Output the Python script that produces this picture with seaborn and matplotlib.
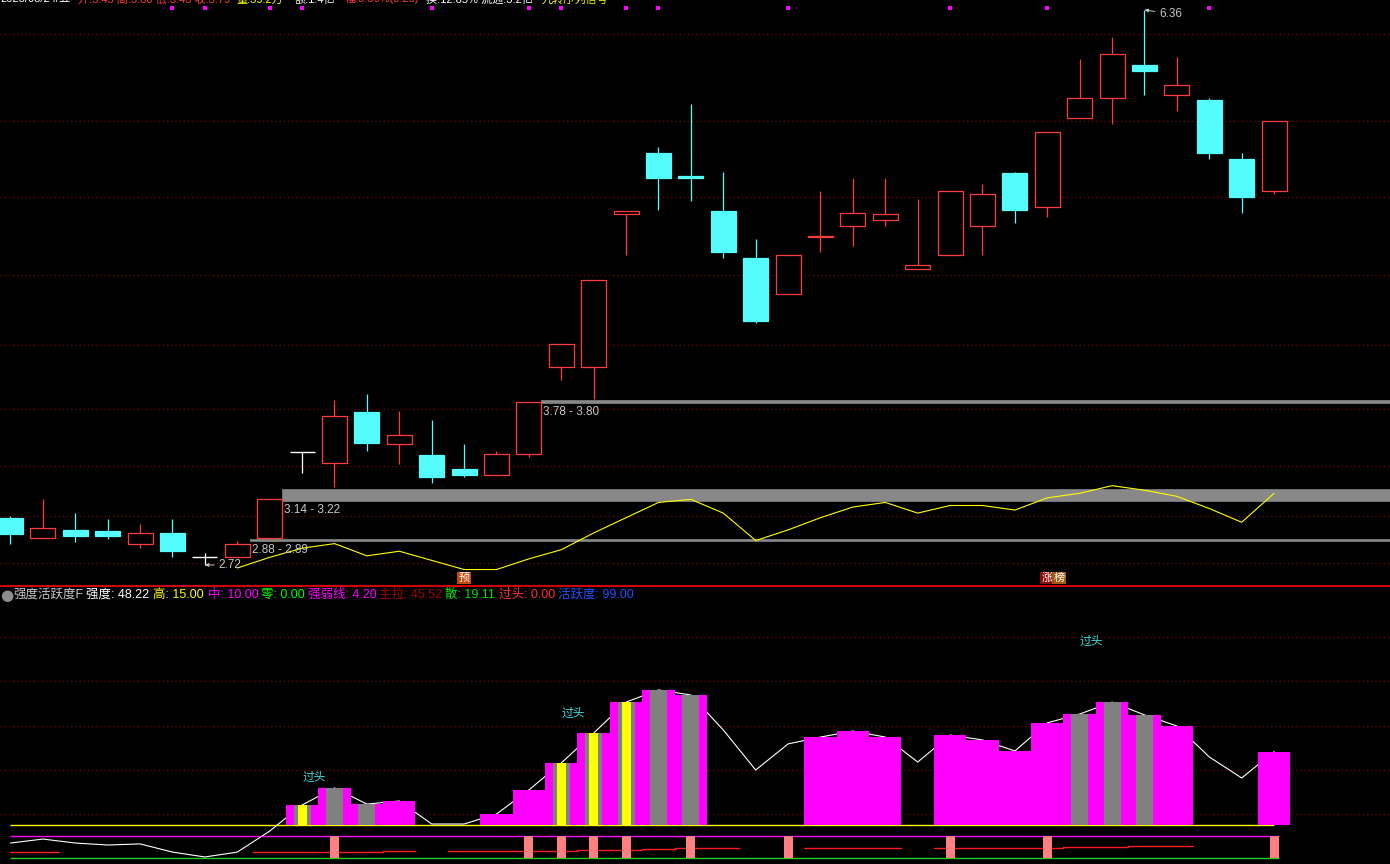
import numpy as np
import matplotlib
matplotlib.use("Agg")
import matplotlib.pyplot as plt
import matplotlib.transforms as mtransforms
import seaborn as sns

# ---- K-line data ----
opens = [3.03, 2.90, 2.95, 2.94, 2.86, 2.93, 2.77, 2.77, 2.90, 3.46,
         3.39, 3.72, 3.51, 3.44, 3.35, 3.31, 3.45, 4.02, 4.02, 5.02,
         5.42, 5.27, 5.04, 4.73, 4.50, 4.87, 4.94, 4.98, 4.66, 4.75,
         4.94, 5.29, 5.07, 5.65, 5.78, 6.00, 5.80, 5.77, 5.38, 5.17]
closes = [2.92, 2.96, 2.91, 2.91, 2.93, 2.81, 2.77, 2.86, 3.15, 3.46,
          3.70, 3.52, 3.57, 3.30, 3.31, 3.45, 3.79, 4.17, 4.59, 5.04,
          5.26, 5.26, 4.77, 4.32, 4.75, 4.88, 5.03, 5.02, 4.69, 5.17,
          5.15, 5.05, 5.56, 5.78, 6.07, 5.96, 5.87, 5.42, 5.13, 5.63]
highs = [3.04, 3.15, 3.06, 3.02, 2.99, 3.02, 2.80, 2.88, 3.15, 3.46,
         3.80, 3.84, 3.73, 3.67, 3.51, 3.47, 3.79, 4.17, 4.59, 5.04,
         5.46, 5.74, 5.30, 4.86, 4.75, 5.17, 5.26, 5.26, 5.12, 5.17,
         5.22, 5.30, 5.56, 6.04, 6.18, 6.36, 6.05, 5.78, 5.42, 5.63]
lows = [2.86, 2.90, 2.87, 2.89, 2.83, 2.77, 2.72, 2.77, 2.90, 3.32,
        3.23, 3.47, 3.38, 3.26, 3.30, 3.31, 3.43, 3.93, 3.81, 4.75,
        5.05, 5.11, 4.73, 4.31, 4.50, 4.77, 4.81, 4.94, 4.66, 4.75,
        4.75, 4.96, 5.00, 5.65, 5.61, 5.80, 5.70, 5.38, 5.03, 5.15]

# yellow line in the price panel (starts at bar 7)
ma_start = 7
ma_line = [2.70, 2.77, 2.83, 2.86, 2.78, 2.81, 2.75, 2.69, 2.69, 2.76,
           2.82, 2.93, 3.03, 3.13, 3.15, 3.06, 2.88, 2.95, 3.03, 3.10,
           3.13, 3.06, 3.11, 3.11, 3.08, 3.16, 3.19, 3.24, 3.21, 3.17,
           3.09, 3.00, 3.19]

price_grid = [2.73, 3.04, 3.37, 3.74, 4.16, 4.62, 5.13, 5.63, 6.20]

# support / pressure zones
zone_lows = [2.88, 3.14, 3.78]
zone_highs = [2.89, 3.22, 3.80]
zone_start = [7, 8, 16]

signal_dots = [5, 6, 8, 9, 13, 16, 17, 19, 20, 24, 29, 32, 37]
tag_yu = 14
tag_zb = 32

# ---- indicator panel ----
strength = [6.9, 8.7, 6.9, 6.0, 6.5, 2.8, 0.6, 2.8, 12.3, 24.1,
            31.8, 24.5, 25.9, 15.5, 15.5, 20.0, 30.9, 43.1, 56.6, 70.6,
            76.1, 73.8, 58.0, 39.9, 51.7, 54.8, 57.5, 54.8, 43.5, 55.7,
            53.5, 48.5, 61.2, 65.2, 70.6, 64.8, 59.8, 45.8, 36.3, 48.22]
# 0 none, 1 magenta, 2 magenta+gray, 3 magenta+gray+yellow
bar_kind = [0, 0, 0, 0, 0, 0, 0, 0, 0, 3,
            2, 2, 1, 0, 0, 1, 1, 3, 3, 3,
            2, 2, 0, 0, 0, 1, 1, 1, 0, 1,
            1, 1, 1, 2, 2, 2, 1, 0, 0, 1]
nan = np.nan
weak_line = [2.8, 2.8, nan, nan, nan, nan, nan, nan, 2.8, 2.8,
             2.8, 2.8, 3.3, nan, 3.3, 3.3, 3.3, 3.3, 3.75, 3.75,
             4.2, 4.65, 4.65, nan, nan, 4.65, 4.65, 4.65, nan, 4.65,
             4.65, 4.65, 4.65, 5.1, 5.1, 5.55, 5.55, nan, nan, nan]
hit_bars = [10, 16, 17, 18, 19, 21, 24, 29, 32, 39]
level_high, level_mid, level_zero = 15.0, 10.0, 0.0
overhead_idx = [9, 17, 33]
overhead_val = [36.4, 65.3, 97.9]
ind_grid = [20, 40, 60, 80, 100]

hdr_names = ["强度", "高", "中", "零", "强弱线", "主拉", "散", "过头", "活跃度"]
hdr_values = [48.22, 15.00, 10.00, 0.00, 4.20, 45.52, 19.11, 0.00, 99.00]
hdr_colors = ["#ffffff", "#ffff00", "#ff00ff", "#00ff00", "#ff00ff",
              "#a00000", "#00e000", "#ff3030", "#2050ff"]
hdr_x = [86, 153, 208, 261, 308, 379, 445, 499, 558]

top_texts = ["2023/03/24/五", "开:3.45 高:3.80 低:3.43 收:3.79", "量:39.2万",
             "额:1.4亿", "幅:5.56%(0.20)", "换:12.85% 流通:3.2亿", "九转序列信号"]
top_colors = ["#ffffff", "#ff3c3c", "#ffff00", "#ffffff", "#ff3c3c", "#ffffff", "#ffff00"]
top_x = [0, 78, 236, 295, 344, 426, 542]

# ---- style ----
sns.set_style("dark", {"axes.facecolor": "black", "figure.facecolor": "black"})
plt.rcParams["font.family"] = ["Liberation Sans", "Noto Sans CJK SC", "DejaVu Sans"]

W, H = 1390, 864
PX = 0.72  # points per pixel at 100 dpi
UP, DOWN, FLAT = "#ff3c3c", "#54fcfc", "#ffffff"
GRID = "#a00000"

fig = plt.figure(figsize=(W / 100, H / 100), dpi=100, facecolor="black")
ax1 = fig.add_axes([0, 1 - 586 / H, 1, 586 / H])
ax2 = fig.add_axes([0, 0, 1, 277 / H])

n = len(opens)
x = np.arange(n)
xlim = (-10.5 / 32.4, (W - 10.5) / 32.4)
half = 0.385

for ax in (ax1, ax2):
    ax.set_facecolor("black")
    ax.set_xlim(*xlim)
    ax.set_xticks([])
    ax.set_yticks([])
    ax.grid(False)
    for s in ax.spines.values():
        s.set_visible(False)

# ---- price panel ----
ax1.set_ylim(2.582, 6.425)
for g in price_grid:
    ax1.axhline(g, color=GRID, lw=0.75, ls=(0, (1, 3)), zorder=0)

for lo, hi, st in zip(zone_lows, zone_highs, zone_start):
    ax1.fill_between([st + half, xlim[1]], lo, hi, color="#888888", lw=0.5, zorder=1)
    ax1.annotate(f"{lo:.2f} - {hi:.2f}", xy=(st + half, lo), xytext=(2 * PX, -9 * PX),
                 textcoords="offset points", ha="left", va="center",
                 color="#c8c8c8", fontsize=8.5, zorder=6)

colors = [UP if c > o else DOWN if c < o else FLAT for o, c in zip(opens, closes)]
ax1.vlines(x, lows, highs, colors=colors, lw=0.9, zorder=2)
for i in range(n):
    o, c = opens[i], closes[i]
    if c > o:
        ax1.bar(i, c - o, bottom=o, width=2 * half, facecolor="black",
                edgecolor=UP, lw=0.9, zorder=3)
    elif c < o:
        ax1.bar(i, o - c, bottom=c, width=2 * half, facecolor=DOWN,
                edgecolor=DOWN, lw=0.9, zorder=3)
    else:
        ax1.hlines(c, i - half, i + half, color=FLAT, lw=1.0, zorder=3)

sns.lineplot(x=x[ma_start:], y=ma_line, ax=ax1, color="#ffff00", lw=0.8,
             legend=False, zorder=4)

trans1 = mtransforms.blended_transform_factory(ax1.transData, ax1.transAxes)
ax1.scatter(signal_dots, [1 - 8 / 586] * len(signal_dots), transform=trans1,
            marker="s", s=10, color="#ff00ff", lw=0, zorder=5)

hi_i = int(np.argmax(highs))
lo_i = int(np.argmin(lows))
arrow = dict(arrowstyle="-|>", color="#c8c8c8", lw=0.7, mutation_scale=5,
             shrinkA=1, shrinkB=0)
ax1.annotate(f"{highs[hi_i]:.2f}", xy=(hi_i, highs[hi_i]), xytext=(15 * PX, -4 * PX),
             textcoords="offset points", ha="left", va="center", color="#c8c8c8",
             fontsize=8.5, arrowprops=arrow, zorder=6)
ax1.annotate(f"{lows[lo_i]:.2f}", xy=(lo_i, lows[lo_i]), xytext=(14 * PX, 0),
             textcoords="offset points", ha="left", va="center", color="#c8c8c8",
             fontsize=8.5, arrowprops=arrow, zorder=6)

tag_y = 1 - 578 / 586
ax1.text(tag_yu, tag_y, "预", transform=trans1, ha="center", va="center",
         color="white", fontsize=8,
         bbox=dict(boxstyle="square,pad=0.12", fc="#c04a10", ec="none"))
ax1.text(tag_zb, tag_y, "涨", transform=trans1, ha="center", va="center",
         color="white", fontsize=8,
         bbox=dict(boxstyle="square,pad=0.12", fc="#8b0a0a", ec="none"))
ax1.annotate("榜", xy=(tag_zb, tag_y), xycoords=trans1, xytext=(12 * PX, 0),
             textcoords="offset points", ha="center", va="center",
             color="white", fontsize=8,
             bbox=dict(boxstyle="square,pad=0.12", fc="#a05a10", ec="none"))

ax1.spines["bottom"].set_visible(True)
ax1.spines["bottom"].set_color("#d00000")
ax1.spines["bottom"].set_linewidth(1.5)

# ---- indicator panel ----
ax2.set_ylim(-2.58, 122.62)
for g in ind_grid:
    ax2.axhline(g, color=GRID, lw=0.75, ls=(0, (1, 3)), zorder=0)

ax2.hlines(level_high, x[0], x[-1], color="#ffff00", lw=1.0, zorder=1)
ax2.hlines(level_mid, x[0], x[-1] + 0.15, color="#ff00ff", lw=1.0, zorder=1)
ax2.hlines(level_zero, x[0], x[-1] + 0.15, color="#20d020", lw=1.0, zorder=1)

sns.lineplot(x=x, y=strength, ax=ax2, color="white", lw=0.8, legend=False, zorder=2)
ax2.plot(x, weak_line, drawstyle="steps-mid", color="#ff1a1a", lw=1.0, zorder=2)

for i in range(n):
    k = bar_kind[i]
    if k >= 1:
        ax2.bar(i, strength[i] - level_high, bottom=level_high, width=1.0,
                color="#ff00ff", lw=0, antialiased=False, zorder=3)
    if k >= 2:
        ax2.bar(i, strength[i] - level_high, bottom=level_high, width=0.525,
                color="#808080", lw=0, antialiased=False, zorder=4)
    if k >= 3:
        ax2.bar(i, strength[i] - level_high, bottom=level_high, width=0.28,
                color="#ffff00", lw=0, antialiased=False, zorder=5)

ax2.bar(hit_bars, level_mid - level_zero, bottom=level_zero, width=0.28,
        color="#ff8080", lw=0, antialiased=False, zorder=3)

for i, v in zip(overhead_idx, overhead_val):
    ax2.text(i, v, "过头", color="#40e0e0", fontsize=8.5, ha="left", va="center", zorder=6)

# ---- header texts ----
hy = 1 - 595 / H
fig.text(0, hy, "●", color="#8c8c8c", fontsize=11, va="center", ha="left",
         family="DejaVu Sans")
fig.text(13 / W, hy, "强度活跃度F", color="#c8c8c8", fontsize=9, va="center", ha="left")
for name, val, col, px in zip(hdr_names, hdr_values, hdr_colors, hdr_x):
    fig.text(px / W, hy, f"{name}: {val:.2f}", color=col, fontsize=9,
             va="center", ha="left")

# top info line, mostly cut off by the window edge as in the original
for t, col, px in zip(top_texts, top_colors, top_x):
    fig.text(px / W, 1 - 2.5 / H, t, color=col, fontsize=8, va="baseline", ha="left")

fig.savefig("out.png", dpi=100, facecolor="black")
